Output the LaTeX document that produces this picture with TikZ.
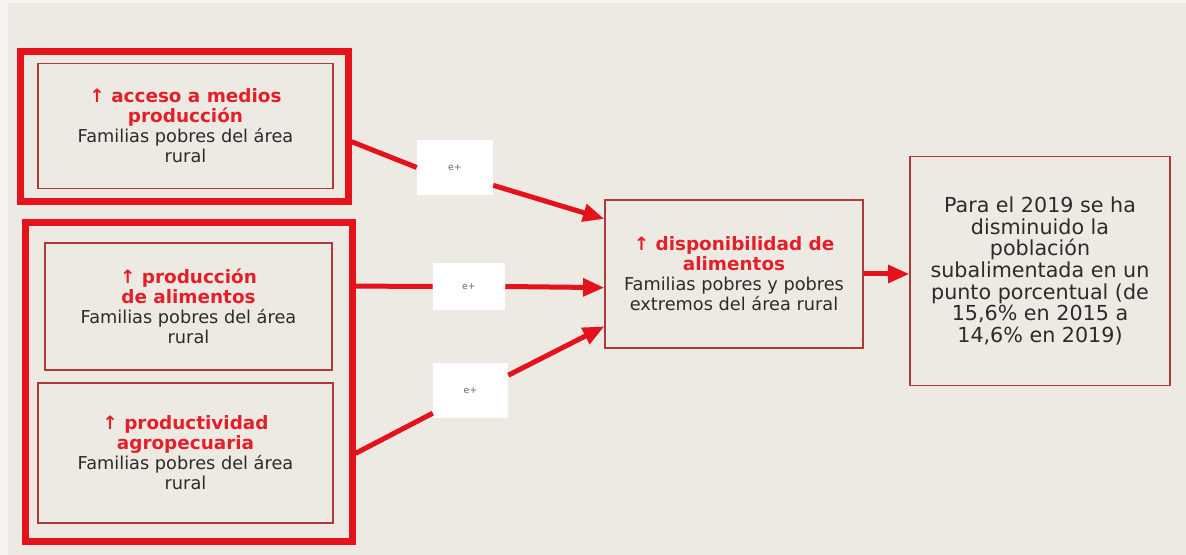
\documentclass[tikz,border=0pt]{standalone}
\usepackage{fontspec}
\setmainfont{DejaVu Sans}
\usepackage{xcolor}
\usepackage{tikz}
\usetikzlibrary{arrows.meta}
\definecolor{paper}{HTML}{EDEAE3}
\definecolor{edge}{HTML}{F4F3EF}
\definecolor{frame}{HTML}{E3121B}
\definecolor{thin}{HTML}{B03A3A}
\definecolor{titred}{HTML}{E3202A}
\definecolor{ink}{HTML}{2B2B2B}
\definecolor{muted}{HTML}{6A6A6A}
\newcommand{\ttl}[1]{{\color{titred}\fontsize{13.8}{16.5}\selectfont\bfseries #1}}
\tikzset{
  grpbox/.style={draw=frame, line width=5.25pt, inner sep=0pt},
  card/.style={draw=thin, line width=1pt, align=center, text=ink, font=\fontsize{13.3}{15}\selectfont, inner sep=0pt},
  ebox/.style={fill=white, text=muted, font=\fontsize{7}{8}\selectfont, inner sep=0pt},
  link/.style={draw=frame, line width=3.75pt},
  flow/.style={link, -{Triangle[length=16pt,width=13pt]}}
}

\begin{document}
\begin{tikzpicture}[x=0.75pt,y=-0.75pt]
  \useasboundingbox (0,0) rectangle (1186,555);
  \fill[edge] (0,0) rectangle (1186,555);
  \fill[paper] (8,3) rectangle (1186,555);
  % left column
  \node[grpbox, minimum width=246pt, minimum height=112.5pt] (grp1) at (184,127) {};
  \node[card, minimum width=221.25pt, minimum height=93.75pt] (acc) at (185.5,126)
    {\ttl{↑ acceso a medios}\\ \ttl{producción}\\ Familias pobres del área\\ rural};
  \node[grpbox, minimum width=245.25pt, minimum height=239.25pt] (grp2) at (188.5,382.5) {};
  \node[card, minimum width=215.25pt, minimum height=95.25pt] (prod) at (188.5,306.5)
    {\ttl{↑ producción}\\ \ttl{de alimentos}\\ Familias pobres del área\\ rural};
  \node[card, minimum width=221.25pt, minimum height=105pt] (agro) at (185.5,453)
    {\ttl{↑ productividad}\\ \ttl{agropecuaria}\\ Familias pobres del área\\ rural};
  % e+ labels
  \node[ebox, minimum width=57pt, minimum height=41.25pt] (e1) at (455,167.5) {e+};
  \node[ebox, minimum width=54pt, minimum height=35.25pt] (e2) at (469,286.5) {e+};
  \node[ebox, minimum width=56.25pt, minimum height=41.25pt] (e3) at (470.5,390.5) {e+};
  % right side
  \node[card, minimum width=193.5pt, minimum height=111pt] (disp) at (734,274)
    {\ttl{↑ disponibilidad de}\\ \ttl{alimentos}\\ Familias pobres y pobres\\ extremos del área rural};
  \node[card, minimum width=195pt, minimum height=171.75pt, font=\fontsize{15.5}{16.3}\selectfont] (res) at (1040,271)
    {Para el 2019 se ha\\ disminuido la\\ población\\ subalimentada en un\\ punto porcentual (de\\ 15,6\% en 2015 a\\ 14,6\% en 2019)};
  % connectors
  \draw[link] (grp1.-5) -- (e1.west);
  \draw[flow] (e1.-25) -- (disp.157);
  \draw[link] (grp2.30) -- (e2.west);
  \draw[flow] (e2.east) -- (disp.186);
  \draw[link] (grp2.-23) -- (e3.211);
  \draw[flow] (e3.22) -- (disp.202);
  \draw[flow] (disp.east) -- (disp.east -| res.west);
\end{tikzpicture}
\end{document}
